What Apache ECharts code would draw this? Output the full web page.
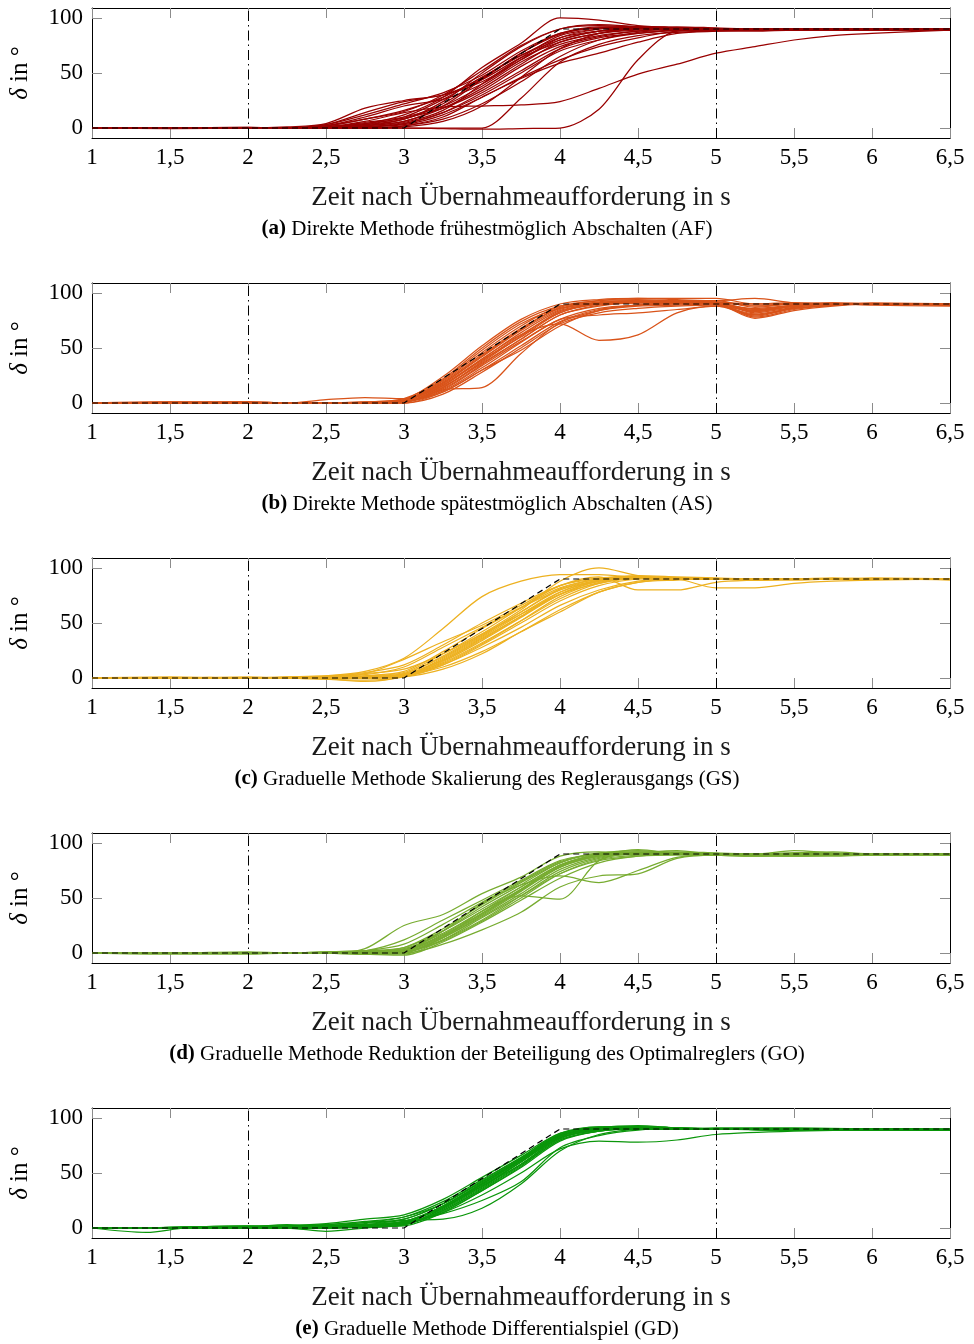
<!DOCTYPE html>
<html>
<head>
<meta charset="utf-8">
<script src="https://cdn.jsdelivr.net/npm/echarts@6/dist/echarts.min.js"></script>
<style>
html, body { margin: 0; padding: 0; background: #ffffff; }
#chart { width: 974px; height: 1344px; }
</style>
</head>
<body>
<div id="chart"></div>
<script>
// Sample times (s after the takeover request) for the recorded steering angles
const timeGrid = [1, 1.5, 2, 2.25, 2.5, 2.75, 3, 3.25, 3.5, 3.75, 4, 4.25, 4.5, 4.75, 5, 5.25, 5.5, 5.75, 6, 6.5];
const timeGridGD = [1, 1.35, 1.6, 2, 2.25, 2.5, 2.75, 3, 3.25, 3.5, 3.75, 4, 4.25, 4.5, 4.75, 5, 5.5, 6, 6.5];

// Axis ticks
const xTicks = [1, 1.5, 2, 2.5, 3, 3.5, 4, 4.5, 5, 5.5, 6, 6.5];
const yTicks = [0, 50, 100];

// Ideal steering manoeuvre and the phase boundaries
const referenceTime = [1, 3, 4, 6.5];
const referenceAngle = [0, 0, 90, 90];
const phaseMarks = [2, 5];

// (a) AF – steering angle δ in degrees per test drive
const tracesAF = [
  [0,0,0,0,1,3,8,22,45,68,85,91,91,90,90,90,90,89,89,89],
  [0,0,0.5,0,2,8,15,30,52,75,90,93,92,91,90,90,90,90,90,90],
  [0,0,0,1,4,18,25,30,42,62,80,88,91,91,90,90,90,90,90,89],
  [0,0,0,0,0,2,6,18,36,58,78,86,89,90,90,90,89,90,90,89],
  [0,0,0,0,1,4,12,28,55,77,100,98,93,91,90,89,89,89,89,89],
  [0,0,0,0,0,1,4,14,30,50,70,80,86,89,90,90,90,90,89,89],
  [0,-0.5,0,0,3,12,22,32,48,70,86,92,92,91,90,90,90,90,90,89],
  [0,0,0,0,0,1,3,12,28,46,62,74,82,88,89,89,90,89,89,89],
  [0,0,0,0,0,0,0,0,0,27,60,76,84,87,88,88,89,89,89,89],
  [0,0,0,0,0,0,0,-0.5,-1,-0.5,0,17,62,88,89,90,90,90,90,89],
  [0,0,0,0,1,6,14,19,20,21,24,36,49,58,68,74,80,84,86,89],
  [0,0,0,0,0,0,2,8,22,42,65,80,87,89,90,90,90,90,90,89],
  [0,0,0.5,0,2,10,20,26,40,62,82,90,92,91,90,89,89,89,89,89],
  [0,0,0,0,1,5,10,20,38,60,76,84,88,90,90,90,90,90,90,90],
  [0,0,0,0,0,2,8,24,50,74,90,94,92,90,89,89,89,89,89,89],
  [0,0,0,0,0,0,2,10,28,45,59,68,78,86,88,89,89,89,90,89],
  [0,0,0,0,0,3,10,26,46,66,82,88,90,91,90,90,90,90,90,90],
  [0,0,0,0,1,4,9,18,34,56,74,83,88,90,90,90,90,89,89,89],
  [0,0,0,0,0,1,5,16,40,64,84,90,91,90,90,90,90,90,90,89],
  [0,0,0,0,2,8,16,28,46,66,80,88,90,90,90,89,89,89,89,89],
  [0,0,0,0,0,0,1,6,20,46,72,86,91,92,91,90,90,90,90,90],
  [0,0,0,0,1,2,6,20,44,68,86,91,92,91,90,90,89,89,89,89],
  [0,0,0,0,0,1,4,14,32,52,72,82,86,89,90,90,90,90,90,90],
  [0,0,0,0,3,14,24,30,44,64,78,86,90,91,90,90,90,90,90,89]
];

// (b) AS
const tracesAS = [
  [0,0,0,0,0,0,1,14,38,62,82,90,92,92,91,84,88,90,90,89],
  [0,1,0,0,0,0,2,18,42,66,85,91,92,91,90,80,86,89,90,90],
  [0,0,0,0,3,5,4,20,46,70,88,93,94,93,92,90,91,90,90,90],
  [0,0,1,0,0,0,1,12,34,56,76,86,89,90,90,78,85,89,90,89],
  [0,0,0,0,0,0,0,10,30,52,74,85,89,90,91,82,87,90,90,90],
  [0,0,0,0,0,1,4,22,50,74,88,91,92,92,92,88,90,91,90,90],
  [0,0,0,0,0,0,1,12,14,45,73,84,88,89,90,83,88,90,90,89],
  [0,0,0,0,0,0,2,16,40,62,72,57,62,82,88,80,87,90,90,90],
  [0,0,0,0,0,0,3,24,52,76,90,94,95,94,93,95,91,90,90,90],
  [0,0,0,0,0,0,1,15,36,58,80,88,91,91,90,77,84,88,90,90],
  [0,1,1,0,0,0,2,17,40,64,84,90,91,91,90,86,89,90,91,90],
  [0,0,0,0,0,0,0,8,28,50,72,82,86,88,89,81,86,89,90,89],
  [0,0,0,0,0,0,2,19,44,68,86,92,93,92,91,85,89,91,90,90],
  [0,0,0,0,0,0,1,13,35,58,80,89,92,93,93,87,90,90,90,89],
  [0,0,0,0,0,1,3,21,48,72,86,90,91,91,90,79,86,89,90,90],
  [0,0,0,0,0,0,1,11,32,55,76,80,82,85,88,84,88,90,90,89],
  [0,0,0,0,0,0,2,16,39,60,82,91,93,92,91,89,90,90,89,88],
  [0,0,0,0,0,0,1,14,37,61,83,90,92,92,91,83,88,90,90,90],
  [0,0.5,1,0,0,0,1,10,30,48,70,84,89,91,91,85,88,90,90,90],
  [0,0,0,0,0,0,2,18,43,67,87,93,95,95,95,90,91,90,90,89]
];

// (c) GS
const tracesGS = [
  [0,0,0,1,2,6,18,45,74,88,94,94,91,90,90,90,90,90,90,90],
  [0,0,0,0,1,3,10,28,46,64,80,89,92,91,90,90,90,90,90,90],
  [0,0,1,0,-1,-3,2,18,38,60,80,90,92,91,90,89,90,90,90,90],
  [0,0,0,0,0,1,3,14,32,52,72,86,91,91,90,90,90,90,90,90],
  [0,0,0,0,0,1,4,20,40,62,88,100,93,90,90,90,90,90,90,90],
  [0,0,0,0,0,2,5,22,42,64,84,92,80,80,87,89,90,90,90,90],
  [0,0,0,0,0,0,1,8,22,42,60,78,87,89,90,90,90,90,90,90],
  [0,0,0,0,0,0,2,10,24,42,62,78,87,90,90,89,90,90,90,90],
  [0,0,0,0,0,1,3,16,36,56,76,88,91,90,82,82,86,88,89,90],
  [0,0,0,0,1,5,12,30,50,68,84,90,91,90,90,90,90,90,90,90],
  [0,1,0,0,0,1,2,15,34,55,76,88,91,91,90,90,90,91,90,90],
  [0,0,0,0,-1,-2,1,12,30,50,70,84,90,91,90,90,90,90,90,90],
  [0,0,0,0,0,2,6,24,45,64,82,90,93,92,91,90,90,90,91,90],
  [0,0,0,0,0,1,3,17,37,58,78,88,91,90,90,90,90,90,90,90],
  [0,0,0,0,0,0,2,13,31,52,74,87,91,91,90,90,90,90,90,90],
  [0,0,0,1,2,4,8,22,40,58,76,86,90,90,90,89,89,90,90,90],
  [0,0,0,0,0,1,2,12,28,46,66,80,88,90,90,90,90,90,90,90],
  [0,0,0,0,0,1,4,19,39,60,81,90,92,91,90,90,90,90,90,90],
  [0,0,0,0,1,4,17,33,48,66,84,91,92,91,90,90,90,90,90,90],
  [0,0,0,0,0,1,3,16,35,56,78,89,92,91,90,90,90,90,90,89]
];

// (d) GO
const tracesGO = [
  [0,0,0,0,0,4,25,35,54,69,88,92,91,91,90,90,90,90,90,90],
  [0,0,0,0,0,2,12,30,48,66,84,90,91,90,89,89,89,89,90,90],
  [0,0,0,0,0,-1,-1,12,32,52,72,84,88,89,89,89,89,90,90,90],
  [0,0,1,0,1,2,4,18,38,58,78,88,90,90,89,89,90,90,90,90],
  [0,0,0,0,0,-1,0,14,38,52,49,84,90,90,90,90,89,89,90,90],
  [0,0,0,0,0,0,0,8,21,37,60,70,72,86,89,89,90,90,90,90],
  [0,0,0,0,0,0,2,20,45,62,70,64,75,87,89,89,90,90,90,90],
  [0,0,0,0,0,0,1,14,34,56,78,90,93,91,90,90,89,90,90,90],
  [0,0,0,0,0,1,3,20,42,62,82,91,92,92,91,90,91,92,90,90],
  [0,-1,-1,0,0,-1,-2,10,28,48,68,82,88,90,90,89,89,89,89,90],
  [0,0,0,0,0,0,2,16,36,58,80,89,94,90,89,89,90,90,90,90],
  [0,0,0,0,1,2,3,17,38,60,80,89,91,93,90,90,93,91,90,90],
  [0,0,0,0,0,0,1,12,30,52,74,86,90,90,89,89,89,90,90,89],
  [0,0,0,0,0,1,5,22,44,64,82,90,91,90,89,88,89,89,89,89],
  [0,0,0,0,0,0,1,14,33,54,76,87,90,91,90,89,90,90,90,90],
  [0,0,0,0,0,1,2,15,35,57,79,88,90,90,89,88,88,89,90,90],
  [0,0,0,0,0,2,8,26,46,65,83,90,91,90,90,90,90,90,90,90],
  [0,0,0,0,0,0,2,16,36,57,78,88,91,91,90,89,89,90,90,90],
  [0,0,0,0,0,0,1,11,29,50,72,85,89,90,90,89,88,88,89,89],
  [0,0,0,0,1,2,5,20,40,60,80,90,92,91,90,90,91,90,90,90]
];

// (e) GD (sampled on timeGridGD)
const tracesGD = [
  [0,-4,0,1,1,0,1,3,18,40,62,84,90,91,90,90,89,89,89],
  [0,0,1,2,2,3,5,8,22,42,62,82,89,90,90,90,90,90,89],
  [0,0,0,0,0,-3,0,4,20,40,62,84,91,92,91,90,90,90,89],
  [0,0,0,0,1,1,2,4,14,30,50,72,79,78,80,85,88,89,89],
  [0,0,0,0,0,1,2,5,13,25,42,73,84,89,90,90,90,90,89],
  [0,0,1,1,2,4,8,12,26,46,66,86,91,92,91,90,90,90,89],
  [0,0,0,0,0,1,1,3,16,36,58,82,89,91,90,90,90,89,89],
  [0,0,0,1,1,2,3,5,19,38,60,83,90,91,90,90,89,89,89],
  [0,0,0,0,0,0,1,2,14,34,56,80,88,90,90,90,90,90,89],
  [0,0,0,0,1,2,5,10,24,44,64,85,92,92,91,90,90,90,89],
  [0,0,0,1,2,3,6,10,22,42,63,84,91,93,91,90,89,89,89],
  [0,0,0,0,0,1,2,4,17,37,60,82,89,91,90,90,90,90,89],
  [0,0,0,0,0,0,1,3,15,34,55,79,88,90,90,90,90,90,90],
  [0,0,0,0,1,1,2,6,20,40,61,84,90,91,90,90,90,89,89],
  [0,0,0,1,3,2,3,7,8,18,40,70,85,90,91,90,90,90,89],
  [0,0,0,0,1,2,4,8,22,43,64,86,92,92,90,90,89,89,89],
  [0,0,1,2,1,1,3,6,18,38,58,81,89,90,90,90,90,90,89],
  [0,0,0,0,0,0,2,5,20,41,63,85,91,91,90,90,90,90,90],
  [0,0,0,0,0,0,1,3,16,35,57,80,88,90,90,91,91,90,89],
  [0,0,0,1,1,2,3,6,19,39,60,83,90,91,90,90,90,90,89]
];

const panels = [
  { traces: tracesAF, time: timeGrid,   color: '#990000', tag: '(a)', caption: 'Direkte Methode frühestmöglich Abschalten (AF)' },
  { traces: tracesAS, time: timeGrid,   color: '#d95319', tag: '(b)', caption: 'Direkte Methode spätestmöglich Abschalten (AS)' },
  { traces: tracesGS, time: timeGrid,   color: '#edb120', tag: '(c)', caption: 'Graduelle Methode Skalierung des Reglerausgangs (GS)' },
  { traces: tracesGO, time: timeGrid,   color: '#77ac30', tag: '(d)', caption: 'Graduelle Methode Reduktion der Beteiligung des Optimalreglers (GO)' },
  { traces: tracesGD, time: timeGridGD, color: '#0a960a', tag: '(e)', caption: 'Graduelle Methode Differentialspiel (GD)' }
];

const xTitle = 'Zeit nach Übernahmeaufforderung in s';
const FONT = '"Liberation Serif", "DejaVu Serif", serif';

const PLOT_LEFT = 92, PLOT_RIGHT = 24, PLOT_TOP = 8, PLOT_H = 130, PITCH = 275;
const Y_MIN = -9.09, Y_MAX = 109.09;

const grids = [], xAxes = [], yAxes = [], series = [], graphics = [];
const tickStyle = { show: true, inside: true, length: 10, lineStyle: { color: '#8c8c8c', width: 1 } };
const frameLine = { show: true, onZero: false, lineStyle: { color: '#000', width: 1 } };

panels.forEach((p, i) => {
  const top = PLOT_TOP + i * PITCH;
  grids.push({ left: PLOT_LEFT, right: PLOT_RIGHT, top: top, height: PLOT_H, containLabel: false });

  const xBase = { type: 'value', gridIndex: i, min: 1, max: 6.5, splitLine: { show: false }, axisLine: frameLine };
  xAxes.push(Object.assign({}, xBase, {
    position: 'bottom',
    axisTick: Object.assign({}, tickStyle, { customValues: xTicks }),
    axisLabel: {
      customValues: xTicks, margin: 8, color: '#000', fontFamily: FONT, fontSize: 23,
      formatter: v => String(v).replace('.', ',')
    }
  }));
  xAxes.push(Object.assign({}, xBase, {
    position: 'top',
    axisTick: Object.assign({}, tickStyle, { customValues: xTicks }),
    axisLabel: { show: false }
  }));

  const yBase = { type: 'value', gridIndex: i, min: Y_MIN, max: Y_MAX, splitLine: { show: false }, axisLine: frameLine };
  yAxes.push(Object.assign({}, yBase, {
    position: 'left',
    axisTick: Object.assign({}, tickStyle, { customValues: yTicks }),
    axisLabel: { customValues: yTicks, margin: 9, color: '#000', fontFamily: FONT, fontSize: 23 }
  }));
  yAxes.push(Object.assign({}, yBase, {
    position: 'right',
    axisTick: Object.assign({}, tickStyle, { customValues: yTicks }),
    axisLabel: { show: false }
  }));

  p.traces.forEach(values => {
    series.push({
      type: 'line',
      xAxisIndex: 2 * i, yAxisIndex: 2 * i,
      data: p.time.map((t, k) => [t, values[k]]),
      smooth: 0.3,
      symbol: 'none',
      silent: true,
      lineStyle: { color: p.color, width: 1.25 },
      z: 2
    });
  });

  // dashed ideal manoeuvre plus the dash-dotted phase boundaries
  series.push({
    type: 'line',
    xAxisIndex: 2 * i, yAxisIndex: 2 * i,
    data: referenceTime.map((t, k) => [t, referenceAngle[k]]),
    symbol: 'none',
    silent: true,
    lineStyle: { color: '#000', width: 1.2, type: [6, 4] },
    z: 5,
    markLine: {
      silent: true,
      symbol: ['none', 'none'],
      label: { show: false },
      lineStyle: { color: '#000', width: 1, type: [10, 4, 1.5, 4] },
      data: phaseMarks.map(t => ({ xAxis: t }))
    }
  });

  graphics.push({
    type: 'text',
    x: 521, y: top + PLOT_H + 60,
    style: { text: xTitle, fill: '#1a1a1a', font: '27px ' + FONT, align: 'center', verticalAlign: 'middle' }
  });
  graphics.push({
    type: 'text',
    x: 487, y: top + PLOT_H + 91,
    style: {
      text: '{b|' + p.tag + '} ' + p.caption,
      rich: { b: { fontWeight: 'bold', fontFamily: FONT, fontSize: 21, fill: '#000' } },
      fill: '#000', font: '21px ' + FONT, align: 'center', verticalAlign: 'middle'
    }
  });
  graphics.push({
    type: 'text',
    x: 20, y: top + PLOT_H / 2,
    rotation: Math.PI / 2,
    style: {
      text: '{i|δ} in °',
      rich: { i: { fontStyle: 'italic', fontFamily: FONT, fontSize: 25, fill: '#000' } },
      fill: '#000', font: '25px ' + FONT, align: 'center', verticalAlign: 'middle'
    }
  });
});

const chart = echarts.init(document.getElementById('chart'), null, { renderer: 'canvas' });
chart.setOption({
  animation: false,
  backgroundColor: '#ffffff',
  grid: grids,
  xAxis: xAxes,
  yAxis: yAxes,
  series: series,
  graphic: graphics
});
</script>
</body>
</html>
